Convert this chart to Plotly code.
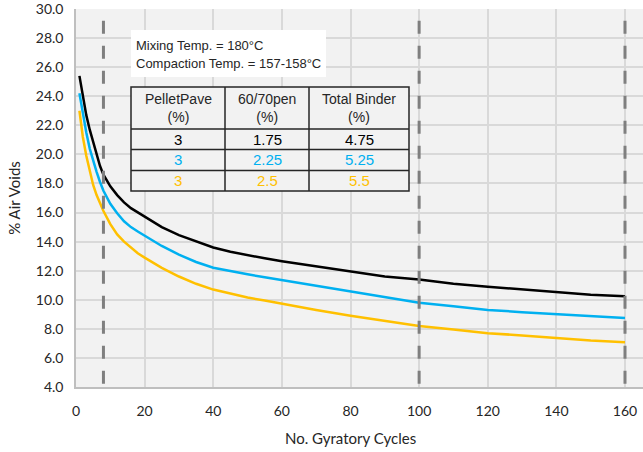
import plotly.graph_objects as go

# ---------------- data ----------------
cycles = [1, 2, 3, 4, 5, 6, 7, 8, 10, 12, 14, 16, 18, 20, 25, 30, 35, 40, 45, 50, 55, 60,
          70, 80, 90, 100, 110, 120, 130, 140, 150, 160]
voids_175 = [25.4, 23.9, 22.7, 21.7, 20.8, 19.9, 19.2, 18.6, 17.8, 17.2, 16.7, 16.3, 16.0, 15.7,
             15.0, 14.45, 14.0, 13.6, 13.3, 13.05, 12.85, 12.65, 12.3, 11.9, 11.6, 11.4, 11.1, 10.9,
             10.7, 10.5, 10.35, 10.25]
voids_225 = [24.2, 22.7, 21.5, 20.4, 19.5, 18.8, 18.1, 17.5, 16.6, 15.95, 15.4, 15.0, 14.7, 14.4,
             13.7, 13.1, 12.6, 12.2, 11.95, 11.75, 11.55, 11.35, 11.0, 10.6, 10.2, 9.8, 9.55, 9.3,
             9.15, 9.0, 8.85, 8.75]
voids_250 = [23.0, 21.2, 19.9, 18.8, 17.9, 17.2, 16.6, 16.1, 15.2, 14.5, 14.0, 13.6, 13.2, 12.9,
             12.2, 11.6, 11.1, 10.7, 10.4, 10.15, 9.95, 9.75, 9.3, 8.9, 8.55, 8.2, 7.95, 7.7,
             7.55, 7.35, 7.2, 7.08]
series_names = ["1.75% 60/70pen", "2.25% 60/70pen", "2.5% 60/70pen"]
series_colors = ["#000000", "#00B0F0", "#FFC000"]

marker_cycles = [8, 100, 160]
x_ticks = [0, 20, 40, 60, 80, 100, 120, 140, 160]
y_ticks = [4, 6, 8, 10, 12, 14, 16, 18, 20, 22, 24, 26, 28, 30]

info_lines = ["Mixing Temp. = 180°C", "Compaction Temp. = 157-158°C"]
table_header = ["PelletPave<br>(%)", "60/70pen<br>(%)", "Total Binder<br>(%)"]
table_pelletpave = ["3", "3", "3"]
table_pen = ["1.75", "2.25", "2.5"]
table_total = ["4.75", "5.25", "5.5"]

# ---------------- figure ----------------
W, H = 643, 452
ML, MR, MT, MB = 76, 0, 9, 65
PW, PH = W - ML - MR, H - MT - MB


def fx(px):
    return (px - ML) / PW


def fy(py):
    return (H - MB - py) / PH


fig = go.Figure()
for yv, name, col in zip([voids_175, voids_225, voids_250], series_names, series_colors):
    fig.add_trace(go.Scatter(x=cycles, y=yv, mode="lines", name=name,
                             line=dict(color=col, width=2.5), showlegend=False))

# dashed vertical reference lines
for c in marker_cycles:
    fig.add_shape(type="line", xref="x", yref="y", x0=c, x1=c, y0=29.2, y1=4.0,
                  line=dict(color="#7F7F7F", width=3, dash="13px,12px"), layer="above")

TXT = "Liberation Sans, Arial, sans-serif"

# info box
fig.add_shape(type="rect", xref="paper", yref="paper", x0=fx(131), x1=fx(326), y0=fy(77), y1=fy(30),
              fillcolor="white", line=dict(width=0), layer="above")
for i, t in enumerate(info_lines):
    fig.add_annotation(xref="paper", yref="paper", x=fx(134), y=fy(45 + 18 * i), text=t,
                       showarrow=False, xanchor="left", yanchor="middle",
                       font=dict(family=TXT, size=13, color="#262626"))

# table
tx = [131, 225, 309, 409]
ty = [87, 129, 149.5, 170.5, 191]
fig.add_shape(type="rect", xref="paper", yref="paper", x0=fx(tx[0]), x1=fx(tx[-1]), y0=fy(ty[-1]), y1=fy(ty[0]),
              fillcolor="#F2F2F2", line=dict(color="#262626", width=1.5), layer="above")
for xv in tx[1:-1]:
    fig.add_shape(type="line", xref="paper", yref="paper", x0=fx(xv), x1=fx(xv), y0=fy(ty[-1]), y1=fy(ty[0]),
                  line=dict(color="#262626", width=1.5), layer="above")
for yv in ty[1:-1]:
    fig.add_shape(type="line", xref="paper", yref="paper", x0=fx(tx[0]), x1=fx(tx[-1]), y0=fy(yv), y1=fy(yv),
                  line=dict(color="#262626", width=1.5), layer="above")

for j, h in enumerate(table_header):
    fig.add_annotation(xref="paper", yref="paper", x=fx((tx[j] + tx[j + 1]) / 2), y=fy((ty[0] + ty[1]) / 2),
                       text=h, showarrow=False, xanchor="center", yanchor="middle",
                       font=dict(family=TXT, size=14, color="#262626"))
for i in range(3):
    row = [table_pelletpave[i], table_pen[i], table_total[i]]
    for j, t in enumerate(row):
        fig.add_annotation(xref="paper", yref="paper", x=fx((tx[j] + tx[j + 1]) / 2),
                           y=fy((ty[i + 1] + ty[i + 2]) / 2), text=t, showarrow=False,
                           xanchor="center", yanchor="middle",
                           font=dict(family=TXT, size=15, color=series_colors[i]))

# x-axis title as annotation (centred as in the reference)
fig.add_annotation(xref="paper", yref="paper", x=fx(350), y=fy(438), text="No. Gyratory Cycles",
                   showarrow=False, xanchor="center", yanchor="middle",
                   font=dict(family="Lato, Open Sans, sans-serif", size=15, color="#262626"))

fig.update_layout(
    width=W, height=H,
    margin=dict(l=ML, r=MR, t=MT, b=MB),
    paper_bgcolor="white", plot_bgcolor="#F2F2F2",
    font=dict(family="Lato, Open Sans, sans-serif", size=14, color="#262626"),
)
fig.update_xaxes(range=[0, PW / (549 / 160)], tickvals=x_ticks, ticktext=[str(v) for v in x_ticks],
                 showgrid=True, gridcolor="#D9D9D9", gridwidth=1.5, zeroline=False,
                 showline=True, linecolor="#BFBFBF", linewidth=1.5,
                 ticks="outside", ticklen=10, tickcolor="rgba(0,0,0,0)",
                 tickfont=dict(size=14), ticklabeloverflow="allow")
fig.update_yaxes(range=[4, 30], tickvals=y_ticks, ticktext=[f"{v:.1f}" for v in y_ticks],
                 showgrid=True, gridcolor="#D9D9D9", gridwidth=1.5, zeroline=False,
                 showline=True, linecolor="#BFBFBF", linewidth=1.5,
                 ticks="outside", ticklen=8, tickcolor="rgba(0,0,0,0)",
                 tickfont=dict(size=14), ticklabeloverflow="allow",
                 title=dict(text="% Air Voids", standoff=12, font=dict(size=15)))

fig.write_html("out.html", config={"displayModeBar": False},
               post_script="document.body.style.margin='0px';")
